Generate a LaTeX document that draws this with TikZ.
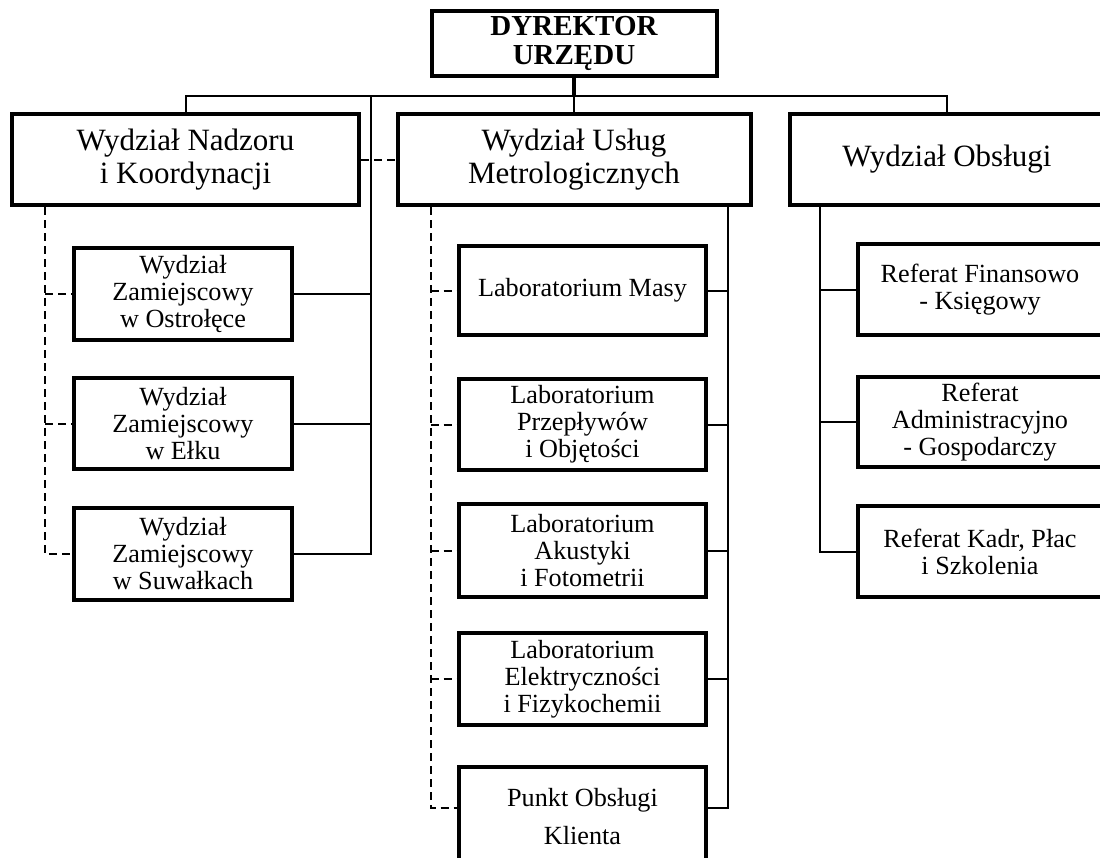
\documentclass[tikz,border=0pt]{standalone}
\usepackage{fontspec}
\setmainfont{Liberation Serif}
\usepackage{tikz}

\begin{document}
\begin{tikzpicture}[x=1pt,y=-1pt,
  topbox/.style={draw,line width=4pt,inner sep=0pt,align=center,font=\bfseries\fontsize{29}{29}\selectfont},
  mainbox/.style={draw,line width=4pt,inner sep=0pt,align=center,minimum height=91pt,font=\fontsize{31}{33}\selectfont},
  subbox/.style={draw,line width=4pt,inner sep=0pt,align=center,font=\fontsize{26.2}{27}\selectfont},
  conn/.style={line width=2pt},
  dashconn/.style={line width=2pt,dash pattern=on 8pt off 5pt}]
\useasboundingbox (0,0) rectangle (1100,857);

\node[topbox,minimum width=285pt,minimum height=65pt] (dyr) at (574,43.5) {DYREKTOR\\URZĘDU};

\node[mainbox,minimum width=347pt] (nadzor) at (185.5,159.5) {Wydział Nadzoru\\i Koordynacji};
\node[mainbox,minimum width=353pt] (uslug) at (574,159.5) {Wydział Usług\\Metrologicznych};
\node[mainbox,minimum width=314pt] (obslugi) at (947,159.5) {Wydział Obsługi};

% wydzialy zamiejscowe
\node[subbox,minimum width=218pt,minimum height=92pt] (zam1) at (183,294) {Wydział\\Zamiejscowy\\w Ostrołęce};
\node[subbox,minimum width=218pt,minimum height=91pt] (zam2) at (183,423.5) {Wydział\\Zamiejscowy\\w Ełku};
\node[subbox,minimum width=218pt,minimum height=92pt] (zam3) at (183,554) {Wydział\\Zamiejscowy\\w Suwałkach};

% laboratoria
\node[subbox,minimum width=247pt,minimum height=89pt] (masy) at (582.5,290.5) {Laboratorium Masy};
\node[subbox,minimum width=247pt,minimum height=91pt] (przep) at (582.5,424.5) {Laboratorium\\Przepływów\\i Objętości};
\node[subbox,minimum width=247pt,minimum height=93pt] (akust) at (582.5,550.5) {Laboratorium\\Akustyki\\i Fotometrii};
\node[subbox,minimum width=247pt,minimum height=92pt] (elektr) at (582.5,679) {Laboratorium\\Elektryczności\\i Fizykochemii};
\node[subbox,minimum width=247pt,minimum height=100pt] (punkt) at (582.5,817) {Punkt Obsługi\\[11pt]Klienta};

% referaty
\node[subbox,minimum width=244pt,minimum height=91pt] (finans) at (980,289.5) {Referat Finansowo\\- Księgowy};
\node[subbox,minimum width=244pt,minimum height=90pt] (admin) at (980,422) {Referat\\Administracyjno\\- Gospodarczy};
\node[subbox,minimum width=244pt,minimum height=91pt] (kadr) at (980,551.5) {Referat Kadr, Płac\\i Szkolenia};

\coordinate (bus) at (574,96);
\draw[line width=4pt] (dyr.south) -- (bus);
\draw[conn] (nadzor.north) |- (bus) -| (obslugi.north);
\draw[conn] (bus) -- (uslug.north);

\coordinate (lspine) at (371,96);
\draw[conn] (lspine) |- (zam3.east);
\draw[conn] (zam1.east) -- (zam1.east -| lspine);
\draw[conn] (zam2.east) -- (zam2.east -| lspine);
\draw[dashconn] (nadzor.east) -- (uslug.west);

\path (nadzor.south west) ++(35,0) coordinate (ldash);
\draw[dashconn] (ldash) |- (zam3.west);
\draw[dashconn] (ldash |- zam1.west) -- (zam1.west);
\draw[dashconn] (ldash |- zam2.west) -- (zam2.west);

\path (uslug.south west) ++(35,0) coordinate (mdash);
\draw[dashconn] (mdash) |- ([yshift=9pt]punkt.west);
\foreach \n in {masy,przep,akust,elektr}
  \draw[dashconn] (mdash |- \n.west) -- (\n.west);

\path (uslug.south east) ++(-25,0) coordinate (msol);
\draw[conn] (msol) |- ([yshift=9pt]punkt.east);
\foreach \n in {masy,przep,akust,elektr}
  \draw[conn] (\n.east) -- (\n.east -| msol);

\path (obslugi.south west) ++(32,0) coordinate (rsol);
\draw[conn] (rsol) |- (kadr.west);
\draw[conn] (finans.west) -- (finans.west -| rsol);
\draw[conn] (admin.west) -- (admin.west -| rsol);
\end{tikzpicture}
\end{document}
